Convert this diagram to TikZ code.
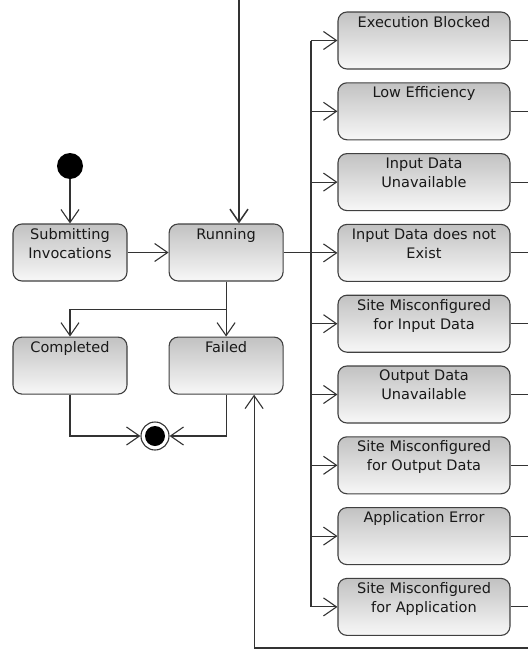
\documentclass[tikz,border=0pt]{standalone}
\usepackage{fontspec}
\usepackage{tikz}
\usetikzlibrary{arrows.meta,positioning}
\newfontfamily\statefont{DejaVu Sans}
\newcommand{\stname}[2]{\parbox[c][49pt][t]{#1}{\centering #2}}

\begin{document}
\begin{tikzpicture}[
        x=1pt, y=-1pt,
        state/.style={rectangle, draw=black!75, line width=1.1pt, rounded corners=9pt,
                      top color=black!24, bottom color=black!3, inner sep=0pt,
                      minimum height=57pt, text=black!90,
                      font=\statefont\fontsize{14.5}{19}\selectfont},
        small/.style={state, minimum width=114pt},
        wide/.style={state, minimum width=172pt},
        line/.style={draw=black!80, line width=1.1pt,
                     -{Straight Barb[length=13pt, width=18pt]}},
        link/.style={draw=black!80, line width=1.1pt}
    ]
    \useasboundingbox (0,0) rectangle (528,653);

    % left part
    \node [circle, fill=black, minimum size=26pt, inner sep=0pt] (init) at (70,166) {};
    \node [small] (submit) at (70,252.5) {\stname{110pt}{Submitting\\Invocations}};
    \node [small, right=41pt of submit] (running) {\stname{110pt}{Running}};
    \node [small, below=55pt of running] (failed) {\stname{110pt}{Failed}};
    \node [small, left=41pt of failed] (completed) {\stname{110pt}{Completed}};
    \node [circle, draw=black!80, line width=1.1pt, fill=white, minimum size=28pt, inner sep=0pt,
           path picture={\fill[black] (path picture bounding box.center) circle (10pt);}] (final) at (155,436) {};

    % right column
    \node [wide] (blocked) at (424,40.5) {\stname{168pt}{Execution Blocked}};
    \node [wide, below=12.7pt of blocked] (loweff) {\stname{168pt}{Low Efficiency}};
    \node [wide, below=12.7pt of loweff] (inunav) {\stname{168pt}{Input Data\\Unavailable}};
    \node [wide, below=12.7pt of inunav] (innoex) {\stname{168pt}{Input Data does not\\Exist}};
    \node [wide, below=12.7pt of innoex] (sitein) {\stname{168pt}{Site Misconfigured\\for Input Data}};
    \node [wide, below=12.7pt of sitein] (outunav) {\stname{168pt}{Output Data\\Unavailable}};
    \node [wide, below=12.7pt of outunav] (siteout) {\stname{168pt}{Site Misconfigured\\for Output Data}};
    \node [wide, below=12.7pt of siteout] (apperr) {\stname{168pt}{Application Error}};
    \node [wide, below=12.7pt of apperr] (siteapp) {\stname{168pt}{Site Misconfigured\\for Application}};

    \coordinate (top) at (239,0);
    \coordinate (bus) at (311,0);
    \coordinate (edge) at (528,0);
    \coordinate (back) at (528,648);

    \draw [line] (init) -- (submit);
    \draw [line] (submit) -- (running);
    \draw [line, line width=1.5pt] (top) -- (top |- running.north);
    \draw [line] (running.south) -- ++(0,28) -| (completed.north);
    \draw [line] (running.south) -- (failed.north);
    \draw [line] (completed.south) |- (final.west);
    \draw [line] (failed.south) |- (final.east);
    \draw [line] (back) -| ([xshift=28pt]failed.south);

    % branches to the error states
    \draw [link] (running.east) -- (running.east -| bus);
    \draw [link] (bus |- blocked.west) -- (bus |- siteapp.west);
    \draw [line] (bus |- blocked.west) -- (blocked.west);
    \draw [line] (bus |- loweff.west) -- (loweff.west);
    \draw [line] (bus |- inunav.west) -- (inunav.west);
    \draw [line] (bus |- innoex.west) -- (innoex.west);
    \draw [line] (bus |- sitein.west) -- (sitein.west);
    \draw [line] (bus |- outunav.west) -- (outunav.west);
    \draw [line] (bus |- siteout.west) -- (siteout.west);
    \draw [line] (bus |- apperr.west) -- (apperr.west);
    \draw [line] (bus |- siteapp.west) -- (siteapp.west);

    % exits to the right
    \draw [link] (blocked.east) -- (blocked.east -| edge);
    \draw [link] (loweff.east) -- (loweff.east -| edge);
    \draw [link] (inunav.east) -- (inunav.east -| edge);
    \draw [link] (innoex.east) -- (innoex.east -| edge);
    \draw [link] (sitein.east) -- (sitein.east -| edge);
    \draw [link] (outunav.east) -- (outunav.east -| edge);
    \draw [link] (siteout.east) -- (siteout.east -| edge);
    \draw [link] (apperr.east) -- (apperr.east -| edge);
    \draw [link] (siteapp.east) -- (siteapp.east -| edge);
\end{tikzpicture}
\end{document}
